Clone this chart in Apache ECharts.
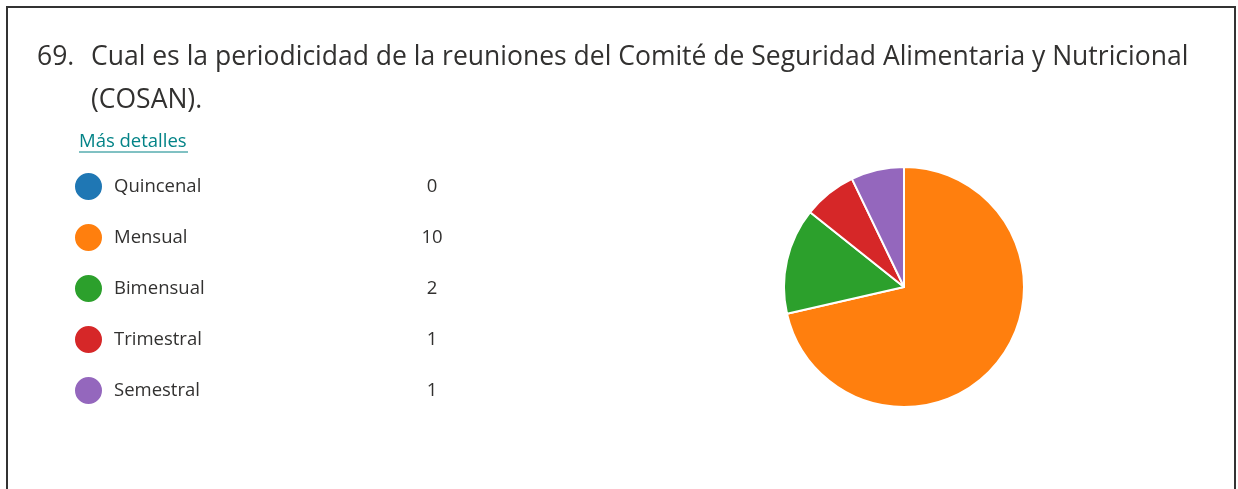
<!DOCTYPE html>
<html>
<head>
<meta charset="utf-8">
<script src="https://cdn.jsdelivr.net/npm/echarts@6/dist/echarts.min.js"></script>
<style>
  html, body { margin: 0; padding: 0; background: #fff; }
  #chart { width: 1238px; height: 489px; }
</style>
</head>
<body>
<div id="chart"></div>
<script>
const categories = ['Quincenal', 'Mensual', 'Bimensual', 'Trimestral', 'Semestral']
const counts = [0, 10, 2, 1, 1]
const colors = ['#1f77b4', '#ff7f0e', '#2ca02c', '#d62728', '#9467bd']
const questionNumber = '69.'
const questionText = 'Cual es la periodicidad de la reuniones del Comité de Seguridad Alimentaria y Nutricional\n(COSAN).'
const linkText = 'Más detalles'

const chart = echarts.init(document.getElementById('chart'))
const font = '"Open Sans", "Noto Sans", sans-serif'
const valueOf = {}
categories.forEach((c, i) => { valueOf[c] = counts[i] })

const titleStyle = { fontFamily: font, fontSize: 26.5, fontWeight: 'normal', color: '#323130', lineHeight: 43 }

chart.setOption({
  animation: false,
  color: colors,
  title: [
    { text: questionNumber, left: 37, top: 36, padding: 0, textStyle: titleStyle },
    { text: questionText, left: 91, top: 36, padding: 0, textStyle: titleStyle },
  ],
  graphic: [
    {
      type: 'rect',
      shape: { x: 7, y: 7, width: 1228, height: 500 },
      style: { fill: 'none', stroke: '#333', lineWidth: 2 },
      silent: true,
    },
    {
      type: 'text',
      left: 79, top: 132,
      style: { text: linkText, fontFamily: font, fontSize: 18.5, fill: '#038387' },
    },
    {
      type: 'line',
      shape: { x1: 79, y1: 152, x2: 188, y2: 152 },
      style: { stroke: '#038387', lineWidth: 1 },
    },
  ],
  legend: {
    orient: 'vertical',
    left: 73, top: 171,
    padding: 0,
    icon: 'circle',
    itemWidth: 29, itemHeight: 29,
    itemGap: 20,
    selectedMode: false,
    data: categories,
    formatter: name => `{n|${name}}{v|${valueOf[name]}}`,
    textStyle: {
      fontFamily: font,
      fontSize: 18.5,
      color: '#323130',
      rich: {
        n: { fontFamily: font, fontSize: 18.5, color: '#323130', width: 298, padding: [0, 0, 0, 6] },
        v: { fontFamily: font, fontSize: 18.5, color: '#323130', width: 40, align: 'center' },
      },
    },
  },
  series: [
    {
      type: 'pie',
      center: [904, 287],
      radius: 120,
      startAngle: 90,
      clockwise: true,
      label: { show: false },
      labelLine: { show: false },
      emphasis: { disabled: true },
      itemStyle: { borderColor: '#fff', borderWidth: 2 },
      data: categories.map((c, i) => ({ name: c, value: counts[i] })),
    },
  ],
})
</script>
</body>
</html>
